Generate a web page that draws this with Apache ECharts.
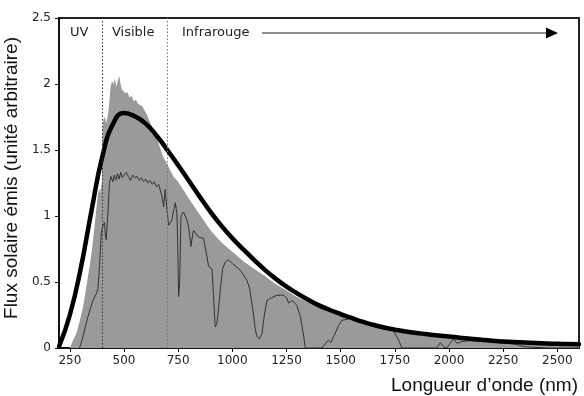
<!DOCTYPE html>
<html>
<head>
<meta charset="utf-8">
<script src="https://cdn.jsdelivr.net/npm/echarts@6/dist/echarts.min.js"></script>
<style>html,body{margin:0;padding:0;background:#fff}#c{width:584px;height:396px}</style>
</head>
<body>
<div id="c"></div>
<script>
// Top-of-atmosphere solar spectrum (gray area)
const toaWl  = [250,258,265,280,295,311,325,341,352,364,372,380,386,390,394,398,401,405,412,418,425,432,438,445,452,458,465,472,478,484,490,497,505,515,525,535,545,555,565,575,585,595,605,620,640,660,680,700,728,750,800,850,900,950,1000,1050,1100,1150,1200,1250,1300,1350,1400,1450,1500,1600,1700,1800,1900,2000,2100,2200,2300,2400,2500,2600];
const toaVal = [0,0.03,0.06,0.11,0.2,0.31,0.45,0.62,0.74,0.92,1.05,1.17,1.21,1.17,1.22,1.25,1.68,1.73,1.75,1.70,1.76,1.85,1.98,2.02,2.0,2.04,1.98,2.03,2.06,2.0,1.96,1.97,1.93,1.94,1.90,1.91,1.87,1.88,1.85,1.84,1.83,1.80,1.77,1.71,1.64,1.55,1.45,1.39,1.30,1.26,1.13,1.01,0.89,0.80,0.73,0.66,0.60,0.545,0.485,0.435,0.385,0.347,0.312,0.28,0.25,0.195,0.15,0.12,0.10,0.083,0.067,0.053,0.043,0.036,0.031,0.028];

// Sea-level spectrum (thin dark line)
const seaWl  = [295,310,320,334,345,357,372,380,387,395,403,410,414,418,425,433,440,448,455,462,470,477,485,492,500,510,520,530,540,550,560,570,580,590,600,610,620,630,640,650,660,667,675,683,690,698,706,714,721,730,737,744,748,752,757,763,775,790,798,809,815,821,844,867,880,890,906,913,921,928,936,945,955,967,982,1000,1037,1067,1080,1090,1098,1106,1114,1125,1137,1148,1160,1180,1206,1237,1250,1260,1275,1290,1298,1314,1321,1330,1337,1414,1444,1455,1460,1467,1480,1490,1506,1550,1600,1650,1700,1744,1767,1783,1944,1960,1975,1990,2005,2021,2037,2060,2100,2200,2300,2350,2450,2600];
const seaVal = [0,0.08,0.15,0.24,0.30,0.36,0.41,0.45,0.62,0.87,0.93,0.95,0.85,0.82,1.0,1.25,1.30,1.26,1.31,1.27,1.32,1.28,1.33,1.29,1.31,1.33,1.30,1.27,1.31,1.29,1.30,1.27,1.29,1.26,1.28,1.25,1.27,1.24,1.26,1.22,1.24,1.23,1.15,1.07,1.20,1.05,0.93,0.95,0.97,1.05,1.10,1.02,0.80,0.39,0.50,1.0,1.03,0.97,0.92,0.77,0.84,0.89,0.84,0.83,0.72,0.62,0.60,0.40,0.16,0.18,0.29,0.45,0.60,0.65,0.67,0.64,0.59,0.515,0.45,0.34,0.25,0.14,0.085,0.07,0.11,0.25,0.36,0.38,0.40,0.40,0.38,0.34,0.36,0.34,0.32,0.24,0.17,0.08,0,0,0.06,0.04,0.05,0.085,0.13,0.17,0.21,0.225,0.19,0.165,0.145,0.13,0.06,0,0,0.04,0.01,0,0.035,0.07,0.035,0.05,0.055,0.045,0.03,0.01,0,0];

// Black-body curve (read every 50 nm)
const bbWl  = [200,250,300,350,400,450,500,550,600,650,700,750,800,850,900,950,1000,1050,1100,1150,1200,1250,1300,1350,1400,1450,1500,1550,1600,1650,1700,1750,1800,1850,1900,1950,2000,2050,2100,2150,2200,2250,2300,2350,2400,2450,2500,2550,2600];
const bbVal = [0.01,0.25,0.60,1.04,1.45,1.70,1.78,1.755,1.70,1.61,1.50,1.385,1.265,1.145,1.03,0.925,0.832,0.748,0.668,0.592,0.525,0.465,0.413,0.365,0.323,0.288,0.257,0.228,0.20,0.176,0.155,0.139,0.125,0.114,0.104,0.095,0.087,0.078,0.07,0.062,0.055,0.05,0.045,0.041,0.037,0.034,0.032,0.030,0.029];

const xTicks = [250,500,750,1000,1250,1500,1750,2000,2250,2500];
const yTicks = [0,0.5,1,1.5,2,2.5];
const regionBounds = [400, 700];
const regionLabels = ['UV', 'Visible', 'Infrarouge'];
const xTitle = 'Longueur d\u2019onde (nm)';
const yTitle = 'Flux solaire émis (unité arbitraire)';

const zip = (a, b) => a.map((v, i) => [v, b[i]]);

const chart = echarts.init(document.getElementById('c'));
const lblFont = 'DejaVu Sans';
chart.setOption({
  animation: false,
  grid: { left: 59, right: 5, top: 18, bottom: 48, show: true, borderColor: '#222', borderWidth: 2, backgroundColor: 'transparent' },
  xAxis: {
    type: 'value', min: 200, max: 2600,
    axisLine: { show: true, onZero: false, lineStyle: { color: '#111', width: 1.5 } },
    axisTick: { show: true, length: 4, customValues: xTicks, lineStyle: { color: '#111' } },
    axisLabel: { customValues: xTicks, margin: 7, color: '#222', fontFamily: lblFont, fontSize: 12, formatter: v => String(v) },
    splitLine: { show: false }
  },
  yAxis: {
    type: 'value', min: 0, max: 2.5, interval: 0.5,
    axisLine: { show: true, lineStyle: { color: '#111', width: 1.5 } },
    axisTick: { show: true, length: 4, lineStyle: { color: '#111' } },
    axisLabel: { margin: 8, color: '#222', fontFamily: lblFont, fontSize: 12, formatter: v => String(v) },
    splitLine: { show: false }
  },
  series: [
    {
      type: 'line', data: zip(toaWl, toaVal), showSymbol: false, silent: true,
      lineStyle: { width: 0 }, itemStyle: { color: '#999' },
      areaStyle: { color: '#9a9a9a', opacity: 1 }, z: 1
    },
    {
      type: 'line', data: zip(seaWl, seaVal), showSymbol: false, silent: true,
      lineStyle: { width: 1, color: '#333' }, itemStyle: { color: '#333' }, z: 2,
      markLine: {
        silent: true, symbol: 'none', label: { show: false },
        data: [
          { xAxis: regionBounds[0], lineStyle: { color: '#333', type: [1.5, 2], width: 1 } },
          { xAxis: regionBounds[1], lineStyle: { color: '#777', type: [1.5, 2], width: 1 } }
        ]
      }
    },
    {
      type: 'line', data: zip(bbWl, bbVal), showSymbol: false, silent: true, smooth: 0.5,
      lineStyle: { width: 4.5, color: '#000', join: 'round', cap: 'round' }, itemStyle: { color: '#000' }, z: 3
    }
  ],
  graphic: [
    { type: 'text', left: 70, top: 26, style: { text: regionLabels[0], font: '13px "DejaVu Sans"', fill: '#222' } },
    { type: 'text', left: 112, top: 26, style: { text: regionLabels[1], font: '13px "DejaVu Sans"', fill: '#222' } },
    { type: 'text', left: 182, top: 26, style: { text: regionLabels[2], font: '13px "DejaVu Sans"', fill: '#222' } },
    { type: 'line', shape: { x1: 262, y1: 33, x2: 548, y2: 33 }, style: { stroke: '#222', lineWidth: 1.2 } },
    { type: 'polygon', shape: { points: [[546, 27.5], [558, 33], [546, 38.5]] }, style: { fill: '#000' } },
    { type: 'text', x: 578, y: 386, style: { text: xTitle, font: '19px "Liberation Sans"', fill: '#111', align: 'right', verticalAlign: 'middle' } },
    { type: 'text', x: 12, y: 178, rotation: Math.PI / 2, style: { text: yTitle, font: '19px "Liberation Sans"', fill: '#111', align: 'center', verticalAlign: 'middle' } }
  ]
});
</script>
</body>
</html>
